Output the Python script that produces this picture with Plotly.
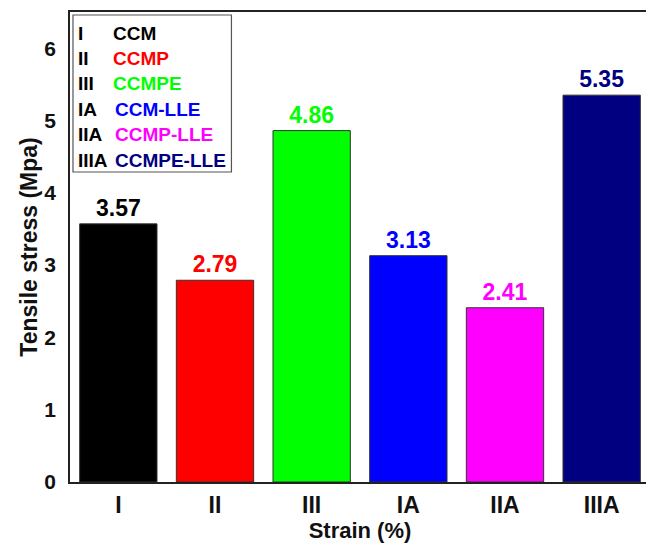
import plotly.graph_objects as go

categories = ["I", "II", "III", "IA", "IIA", "IIIA"]
values = [3.57, 2.79, 4.86, 3.13, 2.41, 5.35]
sample_names = ["CCM", "CCMP", "CCMPE", "CCM-LLE", "CCMP-LLE", "CCMPE-LLE"]
colors = ["#000000", "#FF0000", "#00FF00", "#0000FF", "#FF00FF", "#000080"]
y_ticks = [0, 1, 2, 3, 4, 5, 6]

FONT = "Liberation Sans, Arial, sans-serif"

# the page body has an 8px margin, so the figure is drawn 8px smaller and offset
OFF = 8
W, H = 654 - OFF, 545 - OFF
# plot area in (figure) pixels
L, R, T, B = 70 - OFF, 652 - OFF, 12 - OFF, 482 - OFF

def px_x(p):
    return (p - OFF - L) / (R - L)

def px_y(p):
    return (B - (p - OFF)) / (B - T)

fig = go.Figure()
fig.add_trace(go.Bar(
    x=categories,
    y=values,
    marker=dict(color=colors, line=dict(color="#333333", width=1)),
    width=0.8,
    text=[f"{v:.2f}" for v in values],
    textposition="outside",
    textfont=dict(family=FONT, size=23, color=colors, weight="bold"),
    cliponaxis=False,
    showlegend=False,
))

annotations = []
row0, step = 33, 25.4
for i, (cat, name, col) in enumerate(zip(categories, sample_names, colors)):
    yy = px_y(row0 + i * step)
    annotations.append(dict(x=px_x(76), y=yy, xref="paper", yref="paper", text=cat,
                            showarrow=False, xanchor="left", yanchor="middle",
                            font=dict(family=FONT, size=19, color="#000000", weight="bold")))
    annotations.append(dict(x=px_x(111 if i < 3 else 113), y=yy, xref="paper", yref="paper", text=name,
                            showarrow=False, xanchor="left", yanchor="middle",
                            font=dict(family=FONT, size=19, color=col, weight="bold")))

fig.update_layout(
    width=W, height=H,
    margin=dict(l=L, r=W - R, t=T, b=H - B),
    plot_bgcolor="white", paper_bgcolor="white",
    bargap=0.2,
    annotations=annotations,
    shapes=[dict(type="rect", xref="paper", yref="paper",
                 x0=px_x(73), x1=px_x(232), y0=px_y(172), y1=px_y(15),
                 line=dict(color="#555555", width=1.2), fillcolor="rgba(0,0,0,0)")],
)
fig.update_xaxes(
    range=[-0.5, 5.5], showline=True, mirror=True, linecolor="#222222", linewidth=1.6,
    showgrid=False, ticks="", tickfont=dict(family=FONT, size=23, color="#111111", weight="bold"),
    ticklabelstandoff=2,
    title=dict(text="Strain (%)", font=dict(family=FONT, size=22, color="#111111", weight="bold"),
               standoff=2),
)
fig.update_yaxes(
    range=[0, 6.5], tickvals=y_ticks, showline=True, mirror=True, linecolor="#222222", linewidth=1.6,
    showgrid=False, zeroline=False, ticks="",
    tickfont=dict(family=FONT, size=21, color="#111111", weight="bold"),
    ticklabelstandoff=8,
    title=dict(text="Tensile stress (Mpa)", font=dict(family=FONT, size=23, color="#111111", weight="bold"),
               standoff=0),
)

fig.write_html("out.html")
